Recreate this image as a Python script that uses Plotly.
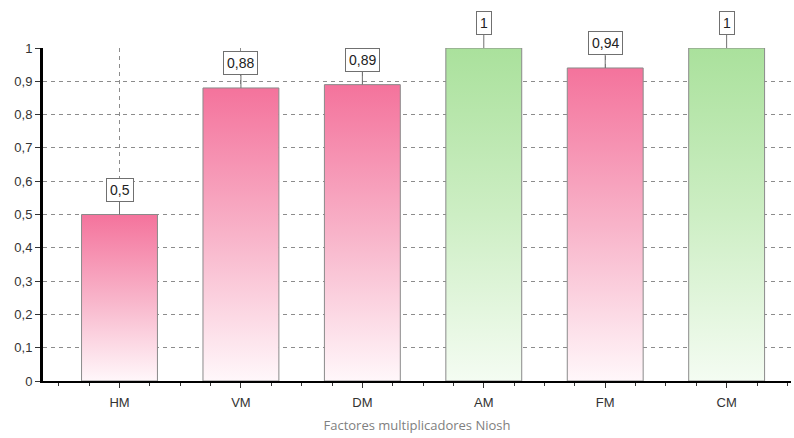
import plotly.graph_objects as go

# NIOSH multiplier factors
factors = ["HM", "VM", "DM", "AM", "FM", "CM"]
values = [0.5, 0.88, 0.89, 1.0, 0.94, 1.0]
# factors at their maximum (1) are shown in green, the reducing ones in pink
y_ticks = [0, 0.1, 0.2, 0.3, 0.4, 0.5, 0.6, 0.7, 0.8, 0.9, 1]

PINK = [[0, "#fff7fa"], [0.5, "#f8b3c9"], [1, "#f4739c"]]
GREEN = [[0, "#f4fcf2"], [0.5, "#cdeec4"], [1, "#aae19c"]]
BAR_WIDTH = 0.625

fig = go.Figure()

for i, (name, v) in enumerate(zip(factors, values)):
    scale = GREEN if v >= 1 else PINK
    x0, x1 = i - BAR_WIDTH / 2, i + BAR_WIDTH / 2
    fig.add_trace(go.Scatter(
        x=[x0, x0, x1, x1, x0],
        y=[0, v, v, 0, 0],
        mode="lines",
        fill="toself",
        fillgradient=dict(type="vertical", colorscale=scale, start=0, stop=v),
        line=dict(color="#8a8a8a", width=1),
        name=name,
        showlegend=False,
        hoverinfo="skip",
    ))
    fig.add_annotation(
        x=i, y=v, xref="x", yref="y",
        text=f"{v:g}".replace(".", ","),
        showarrow=True, arrowhead=0, arrowwidth=1, arrowcolor="#707070",
        ax=0, ay=-25,
        bgcolor="white", bordercolor="#707070", borderwidth=1, borderpad=3,
        font=dict(family="Liberation Sans, Arial, sans-serif", size=14, color="#222"),
    )

fig.update_layout(
    width=794, height=438,
    margin=dict(l=43, r=3, t=48, b=57),
    paper_bgcolor="white", plot_bgcolor="white",
    separators=",.",
    font=dict(family="Liberation Sans, Arial, sans-serif", size=12, color="#333"),
    showlegend=False,
)

fig.update_xaxes(
    range=[-0.63, 5.53],
    tickvals=list(range(len(factors))), ticktext=factors,
    showgrid=True, gridcolor="#8c8c8c", griddash="4px,4px", gridwidth=1,
    showline=True, linecolor="black", linewidth=2,
    ticks="outside", ticklen=5, tickcolor="#333", tickwidth=1,
    minor=dict(dtick=0.25, tick0=0, ticks="outside", ticklen=3,
               tickcolor="#333", showgrid=False),
    zeroline=False,
    ticklabelstandoff=3,
    tickfont=dict(size=13, color="#333"),
    title=dict(text="Factores multiplicadores Niosh",
               font=dict(family="Open Sans, sans-serif", size=13, color="#808080"),
               standoff=12),
)

fig.update_yaxes(
    range=[0, 1],
    tickvals=y_ticks,
    showgrid=True, gridcolor="#8c8c8c", griddash="4px,4px", gridwidth=1,
    showline=True, linecolor="black", linewidth=3,
    ticks="outside", ticklen=5, tickcolor="#333", tickwidth=1,
    zeroline=False,
    tickfont=dict(size=13, color="#333"),
)

fig.write_html("out.html")
